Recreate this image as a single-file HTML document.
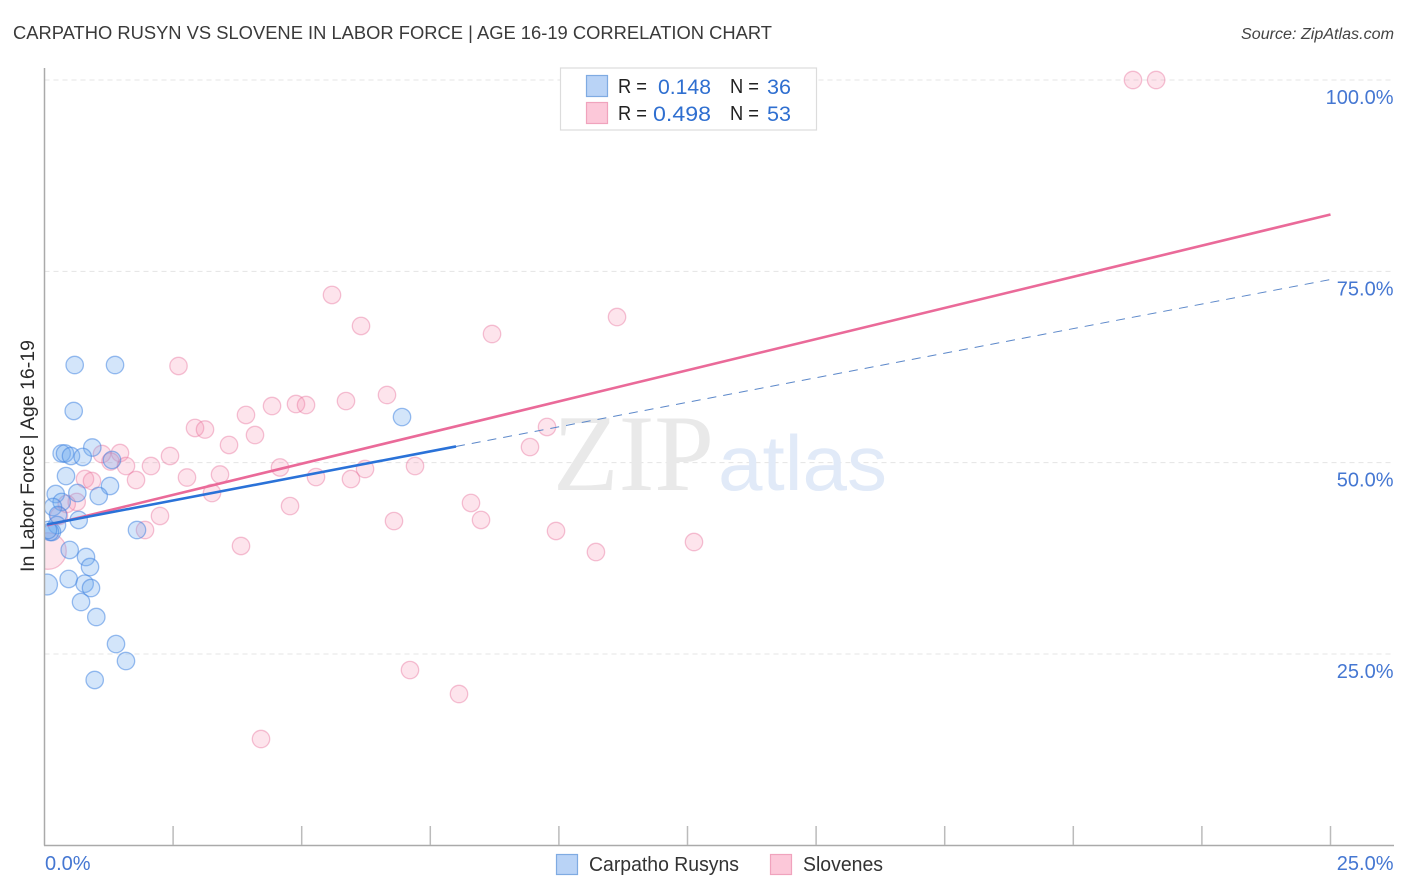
<!DOCTYPE html>
<html lang="en">
<head>
<meta charset="utf-8">
<title>Carpatho Rusyn vs Slovene in Labor Force | Age 16-19 Correlation Chart</title>
<style>
html,body{margin:0;padding:0;background:#fff;}
svg{display:block;font-family:"Liberation Sans",sans-serif;}
</style>
</head>
<body>
<svg id="chart" xmlns="http://www.w3.org/2000/svg" width="1406" height="892" viewBox="0 0 1406 892">
  <defs><clipPath id="plot-clip"><rect x="45" y="60" width="1349" height="785"/></clipPath></defs>
  <rect width="1406" height="892" fill="#fff"/>
  <text x="13" y="39" font-size="18.5" fill="#3a3a3a" textLength="759" lengthAdjust="spacingAndGlyphs">CARPATHO RUSYN VS SLOVENE IN LABOR FORCE | AGE 16-19 CORRELATION CHART</text>
  <text x="1394" y="39" font-size="15.5" font-style="italic" fill="#444" text-anchor="end" textLength="153" lengthAdjust="spacingAndGlyphs">Source: ZipAtlas.com</text>
  <g id="grid"></g>
  <g>
    <text x="553" y="490" font-family="'Liberation Serif',serif" font-size="109" fill="#e9e9e9" textLength="161" lengthAdjust="spacingAndGlyphs">ZIP</text>
    <text x="718" y="490" font-size="78" fill="#e1eaf8" textLength="169" lengthAdjust="spacingAndGlyphs">atlas</text>
  </g>
  <g id="points" clip-path="url(#plot-clip)"></g>
  <g id="trends"></g>
  <g id="axes"></g>
  <text transform="translate(34,456) rotate(-90)" font-size="19.5" fill="#2a2a2a" text-anchor="middle" textLength="232" lengthAdjust="spacingAndGlyphs">In Labor Force | Age 16-19</text>

  <g>
    <rect x="560.5" y="68" width="256" height="62" fill="#fff" stroke="#dcdcdc" stroke-width="1.2"/>
    <rect x="586.5" y="75.5" width="21" height="21" fill="#b9d3f6" stroke="#7fabe2" stroke-width="1.2"/>
    <rect x="586.5" y="102.5" width="21" height="21" fill="#fcc8d9" stroke="#f0a3bd" stroke-width="1.2"/>
    <g font-size="20.5" fill="#222">
      <text x="618" y="93" textLength="29" lengthAdjust="spacingAndGlyphs">R =</text>
      <text x="618" y="120" textLength="29" lengthAdjust="spacingAndGlyphs">R =</text>
      <text x="730" y="93" textLength="29" lengthAdjust="spacingAndGlyphs">N =</text>
      <text x="730" y="120" textLength="29" lengthAdjust="spacingAndGlyphs">N =</text>
    </g>
    <g font-size="21.5" fill="#2f6fd0">
      <text x="658" y="94" textLength="53" lengthAdjust="spacingAndGlyphs">0.148</text>
      <text x="653" y="121" textLength="58" lengthAdjust="spacingAndGlyphs">0.498</text>
      <text x="767" y="94" textLength="24" lengthAdjust="spacingAndGlyphs">36</text>
      <text x="767" y="121" textLength="24" lengthAdjust="spacingAndGlyphs">53</text>
    </g>
  </g>

  <g>
    <rect x="556.5" y="854.5" width="21" height="20" fill="#b9d3f6" stroke="#7fabe2" stroke-width="1.2"/>
    <text x="589" y="871" font-size="20" fill="#333" textLength="150" lengthAdjust="spacingAndGlyphs">Carpatho Rusyns</text>
    <rect x="770.5" y="854.5" width="21" height="20" fill="#fcc8d9" stroke="#f0a3bd" stroke-width="1.2"/>
    <text x="803" y="871" font-size="20" fill="#333" textLength="80" lengthAdjust="spacingAndGlyphs">Slovenes</text>
  </g>
</svg>
<script>
var xTicks = [0, 2.5, 5, 7.5, 10, 12.5, 15, 17.5, 20, 22.5, 25];
var yTicks = [100, 75, 50, 25];
var yTickLabels = ["100.0%", "75.0%", "50.0%", "25.0%"];
var xEdgeLabels = ["0.0%", "25.0%"];

var rusynX = [0.587,1.371,0.568,6.95,0.929,0.334,0.399,0.515,0.743,1.312,0.418,1.273,0.218,0.638,1.054,0.334,0.165,0.262,0.665,0.243,0.146,0.107,0.068,1.798,0.49,0.807,0.885,0.47,0.781,0.904,0.049,0.71,1.007,1.39,1.584,0.976];
var rusynY = [62.76,62.76,56.75,55.96,51.98,51.2,51.2,50.87,50.74,50.35,48.25,46.95,45.9,46.03,45.64,44.86,44.2,43.16,42.51,41.85,40.94,40.94,41.2,41.2,38.59,37.67,36.36,34.8,34.18,33.62,34.08,31.79,29.83,26.3,24.08,21.6];
var rusynWeight = [1,1,1,1,1,1,1,1,1,1,1,1,1,1,1,1,1,1,1,1,1,1,1,1,1,1,1,1,1,1,1.2,1,1,1,1,1];

var sloveneX = [21.16,21.61,5.589,6.153,8.7,11.13,2.605,6.658,5.861,4.889,5.084,4.423,3.917,9.769,2.926,3.12,4.092,3.587,9.438,1.118,1.468,2.44,1.283,2.07,1.584,4.578,7.203,6.231,0.787,0.923,1.779,2.77,3.412,5.278,5.958,3.256,8.291,4.773,0.626,0.432,2.245,0.282,6.794,8.486,1.954,9.944,3.82,12.626,10.72,0.068,7.105,8.058,4.209];
var sloveneY = [100,100,71.91,67.86,66.81,69.03,62.63,58.84,58.05,57.66,57.53,57.4,56.23,54.66,54.53,54.33,53.61,52.31,52.04,51.13,51.26,50.87,50.15,49.56,49.56,49.37,49.56,49.17,47.86,47.6,47.73,48.06,48.45,48.12,47.86,46.03,44.73,44.33,44.86,44.6,43.03,43.03,42.37,42.51,41.2,41.07,39.11,39.63,38.32,38.45,22.9,19.77,13.89];
var sloveneWeight = [1,1,1,1,1,1,1,1,1,1,1,1,1,1,1,1,1,1,1,1,1,1,1,1,1,1,1,1,1,1,1,1,1,1,1,1,1,1,1,1,1,1,1,1,1,1,1,1,1,2.1,1,1,1];

var rusynTrendStart = 41.85;
var rusynTrendEnd = 73.93;
var rusynSolidUntil = 8.0;
var sloveneTrendStart = 41.72;
var sloveneTrendEnd = 82.43;

var NS = "http://www.w3.org/2000/svg";
function xScale(v){ return 44.5 + v * 51.44; }
function yScale(v){ return 80 + (100 - v) * 7.653; }
function mk(tag, attrs, parent){
  var el = document.createElementNS(NS, tag);
  for (var k in attrs) el.setAttribute(k, attrs[k]);
  parent.appendChild(el);
  return el;
}
function lerp(a, b, t){ return a + (b - a) * t; }

var grid = document.getElementById("grid");
var axes = document.getElementById("axes");
var points = document.getElementById("points");
var trends = document.getElementById("trends");

yTicks.forEach(function(t, i){
  var line = mk("line", {x1:44.5, x2:1394, y1:yScale(t), y2:yScale(t), stroke:"#e4e4e4", "stroke-width":1, "stroke-dasharray":"5 4"}, grid);
  
  
  var label = mk("text", {x:1393.5, y:yScale(t) + 24, "font-size":20, fill:"#4577d2", "text-anchor":"end"}, axes);
  
  
  label.textContent = yTickLabels[i];
});

var yAxis = mk("line", {x1:44.5, x2:44.5, y1:68, y2:845.5, stroke:"#aaaaaa", "stroke-width":1.5}, axes);


var xAxis = mk("line", {x1:44, x2:1394, y1:845.5, y2:845.5, stroke:"#aaaaaa", "stroke-width":1.5}, axes);



xTicks.forEach(function(t){
  if (t === 0) return;
  var tick = mk("line", {x1:xScale(t), x2:xScale(t), y1:826, y2:845, stroke:"#bbbbbb", "stroke-width":1.5}, axes);
  
  
});

var xLabelLeft = mk("text", {x:45, y:870, "font-size":20, fill:"#4577d2"}, axes);


xLabelLeft.textContent = xEdgeLabels[0];
var xLabelRight = mk("text", {x:1393.5, y:870, "font-size":20, fill:"#4577d2", "text-anchor":"end"}, axes);


xLabelRight.textContent = xEdgeLabels[1];

var BASE_R = 8.7;
sloveneX.forEach(function(v, i){
  var c = mk("circle", {cx:xScale(v), cy:yScale(sloveneY[i]), r:BASE_R * sloveneWeight[i], fill:"#f58fb0", "fill-opacity":0.24, stroke:"#e8709a", "stroke-opacity":0.42, "stroke-width":1.3}, points);
  
  
});
rusynX.forEach(function(v, i){
  var c = mk("circle", {cx:xScale(v), cy:yScale(rusynY[i]), r:BASE_R * rusynWeight[i], fill:"#6ea8ee", "fill-opacity":0.3, stroke:"#3f83e0", "stroke-opacity":0.52, "stroke-width":1.3}, points);
  
  
});

var lineStart = 0.05;
var rusynSolidEndY = lerp(rusynTrendStart, rusynTrendEnd, rusynSolidUntil / 25);
var rusynDash = mk("line", {x1:xScale(rusynSolidUntil), y1:yScale(rusynSolidEndY), x2:xScale(25), y2:yScale(rusynTrendEnd), stroke:"#5b87c9", "stroke-width":1, "stroke-dasharray":"9 7"}, trends);


var sloveneLine = mk("line", {x1:xScale(lineStart), y1:yScale(lerp(sloveneTrendStart, sloveneTrendEnd, lineStart / 25)), x2:xScale(25), y2:yScale(sloveneTrendEnd), stroke:"#ea6a99", "stroke-width":2.6}, trends);


var rusynLine = mk("line", {x1:xScale(lineStart), y1:yScale(lerp(rusynTrendStart, rusynTrendEnd, lineStart / 25)), x2:xScale(rusynSolidUntil), y2:yScale(rusynSolidEndY), stroke:"#2a72d8", "stroke-width":2.6}, trends);


</script>
</body>
</html>
